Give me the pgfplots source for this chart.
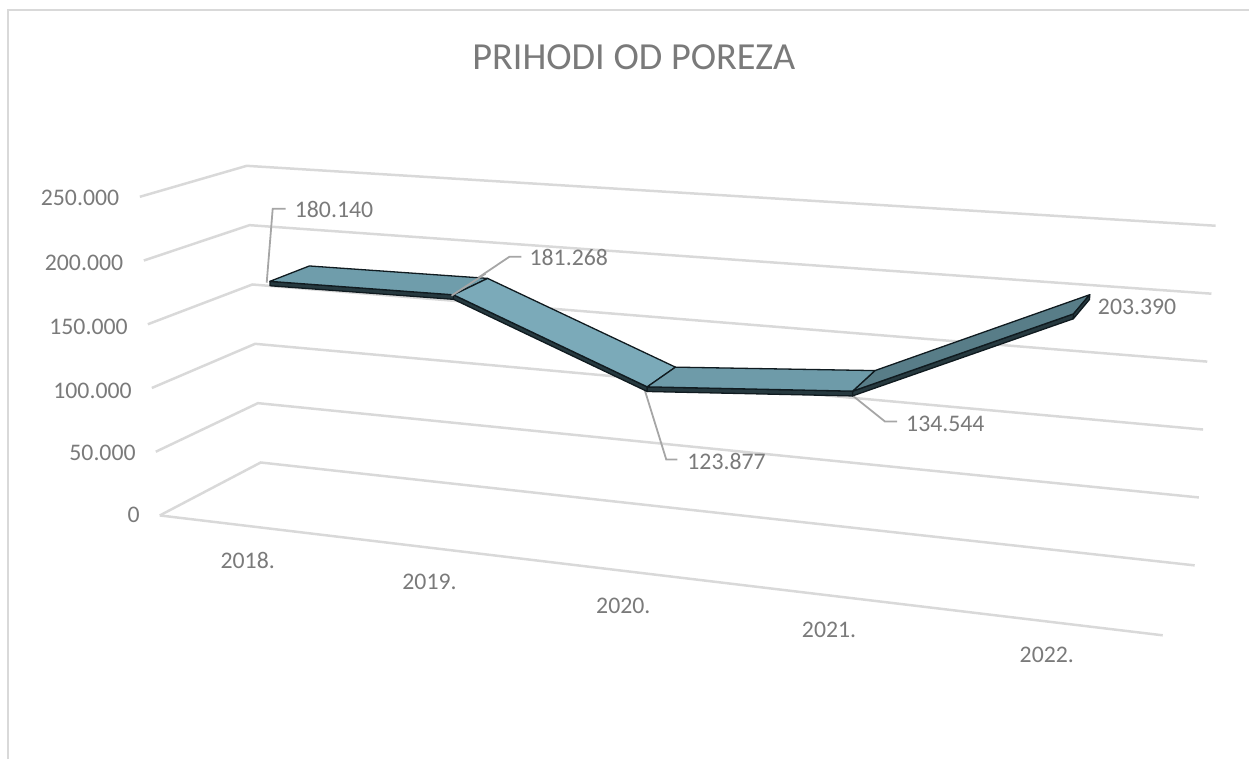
\documentclass[border=0pt]{standalone}
\usepackage{fontspec}
\setmainfont{Carlito}
\usepackage{pgfplots}
\pgfplotsset{compat=1.18}

\definecolor{gridc}{HTML}{D9D9D9}
\definecolor{leadc}{HTML}{A6A6A6}
\definecolor{textc}{HTML}{7A7A7A}
\definecolor{edgec}{HTML}{101B20}
\definecolor{sidec}{HTML}{26393F}
\definecolor{segA}{HTML}{6F9DAB}
\definecolor{segB}{HTML}{7BAAB9}
\definecolor{segC}{HTML}{6E9BA9}
\definecolor{segD}{HTML}{587D88}

% p = position along the years, d = depth, v = value, s = drop (ribbon thickness)
\pgfkeys{/pgfplots/table/proj/.style={x expr={PX(\thisrow{p},\thisrow{d},(\thisrow{v}-\thisrow{s})/250000)},
    y expr={PY(\thisrow{p},\thisrow{d},(\thisrow{v}-\thisrow{s})/250000)}, row sep=\\}}
\newcommand\gridl[1]{\addplot[gridc, line width=2.5pt] table[proj] {p d v s\\ 0 0 #1 0\\ 0 1 #1 0\\ 1 1 #1 0\\};}
\newcommand\poly[2]{\addplot[#1] table[proj] {p d v s\\ #2} -- cycle;}
\newcommand\seg[5]{%
  \poly{fill=sidec, draw=edgec, line width=1.3pt, line join=round}{#2 0.32 #3 0\\ #4 0.32 #5 0\\ #4 0.32 #5 3500\\ #2 0.32 #3 3500\\}
  \poly{fill=#1, draw=edgec, line width=1.3pt, line join=round}{#2 0.32 #3 0\\ #4 0.32 #5 0\\ #4 0.72 #5 0\\ #2 0.72 #3 0\\}}
\newcommand\lab[3]{\node[anchor=#3, inner sep=0pt, text=textc, font=\fontsize{23.8}{28}\selectfont] at (axis cs:#1) {#2};}

\begin{document}
\begin{tikzpicture}
\begin{axis}[
    scale only axis, width=1250pt, height=760pt,
    xmin=0, xmax=1250, ymin=0, ymax=760, y dir=reverse,
    hide axis, clip=false,
    declare function={
      PX(\x,\y,\z)=(1-\x)*((1-\y)*(160-20*\z)+\y*(261-14*\z))+\x*((1-\y)*(1164+21*\z)+\y*(1196+21*\z));
      PY(\x,\y,\z)=(1-\x)*((1-\y)*(516-319*\z)+\y*(463-297*\z))+\x*((1-\y)*(636-365*\z)+\y*(566-340*\z));
    },
]
\path (axis cs:0,0) rectangle (axis cs:1250,760);

% chart frame, cut off at the bottom and right
\addplot[gridc, line width=2.8pt] coordinates {(8,760) (8,10) (1250,10)};

% gridlines and floor
\gridl{0} \gridl{50000} \gridl{100000} \gridl{150000} \gridl{200000} \gridl{250000}
\addplot[gridc, line width=2.5pt] table[proj] {p d v s\\ 0 0 0 0\\ 1 0 0 0\\};

% leader lines
\addplot[leadc, line width=1.8pt] coordinates {(267,283) (273,209) (286,209)};
\addplot[leadc, line width=1.8pt] coordinates {(452,296) (510,257) (522,257)};
\addplot[leadc, line width=1.8pt] coordinates {(645,389) (667,460) (678,460)};
\addplot[leadc, line width=1.8pt] coordinates {(851,394) (886,422) (898,422)};

% ribbon, left to right
\seg{segA}{0.090}{180140}{0.272}{181268}
\seg{segB}{0.272}{181268}{0.464}{123877}
\seg{segD}{0.669}{134544}{0.885}{203390}
\seg{segC}{0.464}{123877}{0.669}{134544}
\poly{fill=sidec, draw=edgec, line width=1.3pt, line join=round}{0.885 0.32 203390 0\\ 0.885 0.72 203390 0\\ 0.885 0.72 203390 3500\\ 0.885 0.32 203390 3500\\}

% leader ends over the ribbon
\addplot[leadc, line width=1.8pt] coordinates {(452,296) (486,274)};

% title and texts
\node[text=textc, inner sep=0pt, font=\fontsize{38.3}{44}\selectfont] at (axis cs:634.5,57.5) {PRIHODI OD POREZA};

\lab{119.5,198}{250.000}{east}
\lab{123.5,263}{200.000}{east}
\lab{128,327}{150.000}{east}
\lab{132,391}{100.000}{east}
\lab{136,453}{50.000}{east}
\lab{140,515}{0}{east}

\lab{248,561}{2018.}{center}
\lab{430,583}{2019.}{center}
\lab{624,607}{2020.}{center}
\lab{830,631}{2021.}{center}
\lab{1048,656}{2022.}{center}

\lab{295,210}{180.140}{west}
\lab{530,258}{181.268}{west}
\lab{688,462}{123.877}{west}
\lab{907,424}{134.544}{west}
\lab{1099,307}{203.390}{west}
\end{axis}
\end{tikzpicture}
\end{document}
